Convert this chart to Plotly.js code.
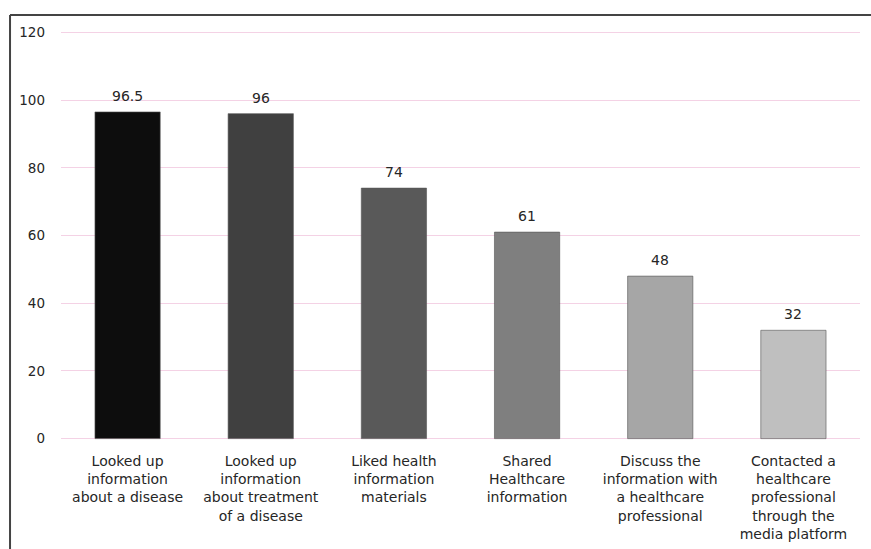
<!DOCTYPE html>
<html>
<head>
<meta charset="utf-8">
<script src="https://cdn.plot.ly/plotly-3.0.1.min.js"></script>
<style>
  html, body { margin: 0; padding: 0; background: #ffffff; }
  #chart { width: 871px; height: 549px; }
</style>
</head>
<body>
<div id="chart"></div>
<script>
// Share of respondents per online health activity
const categories = [
  "Looked up<br>information<br>about a disease",
  "Looked up<br>information<br>about treatment<br>of a disease",
  "Liked health<br>information<br>materials",
  "Shared<br>Healthcare<br>information",
  "Discuss the<br>information with<br>a healthcare<br>professional",
  "Contacted a<br>healthcare<br>professional<br>through the<br>media platform"
];
const values = [96.5, 96, 74, 61, 48, 32];
const valueLabels = ["96.5", "96", "74", "61", "48", "32"];
const barColors = ["#0d0d0d", "#404040", "#595959", "#7f7f7f", "#a6a6a6", "#bfbfbf"];
const yTicks = [0, 20, 40, 60, 80, 100, 120];

const FONT = "DejaVu Sans, Verdana, sans-serif";
const TEXT_COLOR = "#262626";

const trace = {
  type: "bar",
  x: categories,
  y: values,
  marker: { color: barColors, line: { color: "#555555", width: 0.6 } },
  hoverinfo: "skip"
};

// value labels sit a little above each bar
const valueAnnotations = categories.map((c, i) => ({
  x: c,
  y: values[i],
  xref: "x",
  yref: "y",
  text: valueLabels[i],
  showarrow: false,
  yanchor: "middle",
  yshift: 16,
  font: { family: FONT, size: 14, color: TEXT_COLOR }
}));

const layout = {
  width: 871,
  height: 549,
  margin: { l: 61, r: 11, t: 29, b: 107 },
  paper_bgcolor: "#ffffff",
  plot_bgcolor: "#ffffff",
  bargap: 0.51,
  showlegend: false,
  font: { family: FONT, size: 14, color: TEXT_COLOR },
  xaxis: {
    type: "category",
    showgrid: false,
    showline: false,
    zeroline: false,
    ticks: "",
    ticklabelstandoff: 9,
    tickfont: { family: FONT, size: 14, color: TEXT_COLOR }
  },
  yaxis: {
    // padded by one unit so the 0 and 120 grid lines are kept
    range: [-1, 121],
    tickvals: yTicks,
    ticktext: yTicks.map(String),
    showgrid: true,
    gridcolor: "#f4d2e5",
    gridwidth: 1,
    zeroline: false,
    showline: false,
    ticks: "",
    ticklabelstandoff: 15,
    tickfont: { family: FONT, size: 13.5, color: TEXT_COLOR }
  },
  annotations: valueAnnotations,
  shapes: [
    // outer frame: top and left edges
    { type: "line", xref: "paper", yref: "paper",
      x0: -0.0638, x1: 1.02, y0: 1.034, y1: 1.034,
      line: { color: "#444444", width: 2 } },
    { type: "line", xref: "paper", yref: "paper",
      x0: -0.0638, x1: -0.0638, y0: 1.034, y1: -0.27,
      line: { color: "#444444", width: 2 } }
  ]
};

Plotly.newPlot("chart", [trace], layout, { displayModeBar: false, staticPlot: true });
</script>
</body>
</html>
